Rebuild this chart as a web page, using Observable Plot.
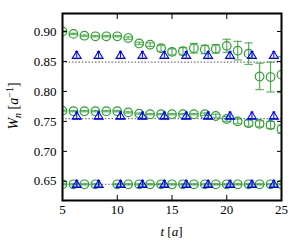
<!DOCTYPE html>
<html><head><meta charset="utf-8">
<script src="https://cdn.jsdelivr.net/npm/d3@7"></script>
<script src="https://cdn.jsdelivr.net/npm/@observablehq/plot@0.6"></script>
<style>body{margin:0;background:#fff} svg{display:block}</style>
</head><body><div id="chart"></div>
<script>
// green circles: integer t
const tCircle = [5,6,7,8,9,10,11,12,13,14,15,16,17,18,19,20,21,22,23,24,25];
const topVals = [0.900,0.896,0.893,0.892,0.892,0.892,0.889,0.880,0.878,0.872,0.866,0.867,0.872,0.870,0.871,0.876,0.868,0.863,0.825,0.824,0.828];
const topErr  = [0.001,0.001,0.001,0.001,0.001,0.001,0.002,0.002,0.003,0.005,0.005,0.006,0.008,0.007,0.007,0.011,0.0155,0.018,0.022,0.025,0.03];
const midVals = [0.768,0.767,0.767,0.767,0.767,0.767,0.765,0.763,0.762,0.762,0.762,0.762,0.762,0.762,0.759,0.754,0.750,0.747,0.746,0.744,0.737];
const midErr  = [0.001,0.001,0.001,0.001,0.001,0.001,0.001,0.001,0.001,0.001,0.001,0.001,0.001,0.002,0.003,0.004,0.004,0.005,0.005,0.006,0.007];
const tBot    = [5,6,7,8,10,11,12,13,14,15,16,17,18,19,20,21,22,23,24,25];
const botVals = [0.645,0.645,0.645,0.645,0.645,0.645,0.645,0.645,0.645,0.645,0.645,0.645,0.645,0.645,0.645,0.645,0.645,0.645,0.645,0.645];
const botErr  = [0.001,0.001,0.001,0.001,0.001,0.001,0.001,0.001,0.001,0.001,0.001,0.001,0.001,0.001,0.001,0.001,0.001,0.001,0.001,0.001];
// blue triangles
const tTri    = [6.3,8.3,10.3,12.3,14.3,16.3,18.3,20.3,22.3,24.3];
const triTop  = [0.861,0.861,0.861,0.861,0.861,0.861,0.861,0.861,0.861,0.861];
const triMid  = [0.760,0.760,0.760,0.760,0.760,0.760,0.760,0.760,0.760,0.760];
const triBot  = [0.646,0.646,0.646,0.646,0.646,0.646,0.646,0.646,0.646,0.646];
const triErr  = [0.0055,0.0055,0.0055,0.0055,0.0055,0.0055,0.0055,0.0055,0.0055,0.0055];
// reference (dotted) lines
const refLines = [0.849, 0.7545, 0.645];
const xTicks = [5,10,15,20,25];
const xInnerTicks = [10,15,20];
const yTicks = [0.65,0.70,0.75,0.80,0.85,0.90];

const green = "#2ca02c", blue = "#0000ff";
const rows = (t, v, e) => t.map((d,i)=>({t:d, v:v[i], lo:v[i]-e[i], hi:v[i]+e[i]}));
const greenData = [...rows(tCircle, topVals, topErr), ...rows(tCircle, midVals, midErr), ...rows(tBot, botVals, botErr)];
const blueData = [...rows(tTri, triTop, triErr), ...rows(tTri, triMid, triErr), ...rows(tTri, triBot, triErr)];

const cap = {draw(ctx, size){ const r = Math.sqrt(size/Math.PI); ctx.moveTo(-r,0); ctx.lineTo(r,0); }};
const tri = {draw(ctx, size){ const r = Math.sqrt(size/Math.PI); ctx.moveTo(0,-0.9*r); ctx.lineTo(1.1*r,0.9*r); ctx.lineTo(-1.1*r,0.9*r); ctx.closePath(); }};

const plot = Plot.plot({
  width: 300, height: 250,
  marginLeft: 62, marginRight: 19, marginTop: 13, marginBottom: 50,
  x: {domain: [5, 25]},
  y: {domain: [0.618, 0.93]},
  style: {fontFamily: "Liberation Serif", fontSize: "13px", color: "black", background: "white"},
  marks: [
    Plot.ruleY(refLines, {stroke: "#777", strokeWidth: 1.2, strokeDasharray: "1.5,1.8"}),
    Plot.ruleX(greenData, {x: "t", y1: "lo", y2: "hi", stroke: green, strokeOpacity: 0.8, strokeWidth: 1.2, clip: true}),
    Plot.dot(greenData, {x: "t", y: "lo", symbol: cap, r: 4.2, stroke: green, strokeOpacity: 0.75, strokeWidth: 1.2, fill: "none", clip: true}),
    Plot.dot(greenData, {x: "t", y: "hi", symbol: cap, r: 4.2, stroke: green, strokeOpacity: 0.75, strokeWidth: 1.2, fill: "none", clip: true}),
    Plot.dot(greenData, {x: "t", y: "v", r: 4.3, stroke: green, strokeWidth: 1.2, fill: "none", clip: true}),
    Plot.ruleX(blueData, {x: "t", y1: "lo", y2: "hi", stroke: blue, strokeWidth: 1, clip: true}),
    Plot.dot(blueData, {x: "t", y: "lo", symbol: cap, r: 4, stroke: blue, strokeWidth: 1.1, fill: "none", clip: true}),
    Plot.dot(blueData, {x: "t", y: "hi", symbol: cap, r: 1.5, stroke: blue, strokeWidth: 1.1, fill: "none", clip: true}),
    Plot.dot(blueData, {x: "t", y: "v", symbol: tri, r: 4.1, stroke: blue, strokeWidth: 1.1, fill: "none", clip: true}),
    Plot.frame({stroke: "black", strokeWidth: 2}),
    Plot.axisX(xTicks, {anchor: "bottom", tickSize: 0, tickPadding: 4, tickFormat: d => String(d), label: null}),
    Plot.axisX(xInnerTicks, {anchor: "bottom", tickSize: 5, dy: -5, tickFormat: () => "", label: null}),
    Plot.axisX(xInnerTicks, {anchor: "top", tickSize: 5, dy: 5, tickFormat: () => "", label: null}),
    Plot.axisY(yTicks, {anchor: "left", tickSize: 0, tickPadding: 6, tickFormat: d3.format(".2f"), label: null}),
    Plot.axisY(yTicks, {anchor: "left", tickSize: 5, dx: 5, tickFormat: () => "", label: null}),
    Plot.axisY(yTicks, {anchor: "right", tickSize: 5, dx: -5, tickFormat: () => "", label: null})
  ]
});

const s = d3.select(plot);
const yl = s.append("text")
  .attr("transform", "translate(18,106) rotate(-90)")
  .attr("text-anchor", "middle")
  .attr("font-family", "Liberation Serif").attr("font-size", 14).attr("fill", "black");
yl.append("tspan").attr("font-style", "italic").text("W");
yl.append("tspan").attr("font-style", "italic").attr("font-size", 10).attr("dy", 3).text("n");
yl.append("tspan").attr("dy", -3).text(" [");
yl.append("tspan").attr("font-style", "italic").text("a");
yl.append("tspan").attr("font-size", 10).attr("dy", -5).text("\u22121");
yl.append("tspan").attr("dy", 5).text("]");

const xl = s.append("text")
  .attr("x", 171.5).attr("y", 236)
  .attr("text-anchor", "middle")
  .attr("font-family", "Liberation Serif").attr("font-size", 13).attr("fill", "black");
xl.append("tspan").attr("font-style", "italic").text("t");
xl.append("tspan").text(" [");
xl.append("tspan").attr("font-style", "italic").text("a");
xl.append("tspan").text("]");

document.getElementById("chart").append(plot);
</script>
</body></html>
